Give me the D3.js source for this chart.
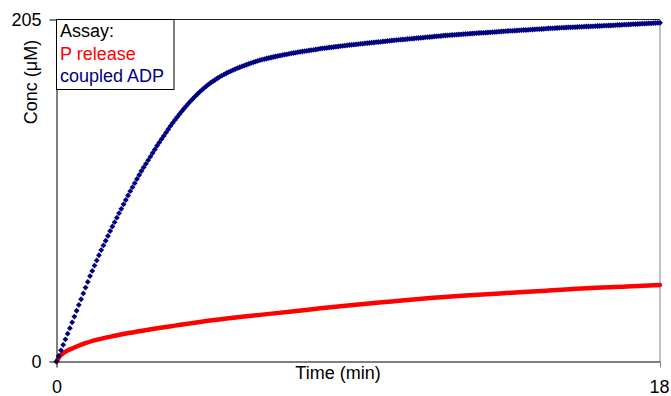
<!DOCTYPE html>
<html>
<head>
<meta charset="utf-8">
<script src="https://cdn.jsdelivr.net/npm/d3@7/dist/d3.min.js"></script>
<style>
  html, body { margin: 0; padding: 0; background: #fff; }
  svg { display: block; font-family: Arial, "Liberation Sans", sans-serif; }
</style>
</head>
<body>
<svg id="chart" width="671" height="396"></svg>
<script>
// ---- Data ----
const xTickValues = [0, 18];
const yTickValues = [0, 205];
const xLabel = "Time (min)";
const yLabel = "Conc (\u03bcM)";
const legendTitle = "Assay:";
const seriesNames = ["P release", "coupled ADP"];

// P release (line), time in min
const pReleaseTime = [0, 0.1, 0.25, 0.5, 0.84, 1.25, 1.74, 2.2, 2.64, 3.1, 3.53, 4.28, 5.4, 6.56, 7.7, 8.85, 10.0, 11.14, 12.2, 13.32, 14.6, 15.81, 17.0, 18];
const pReleaseConc = [0, 3.2, 5.6, 8.1, 10.9, 13.3, 15.4, 17.2, 18.7, 20.2, 21.5, 23.7, 26.5, 29.0, 31.5, 33.9, 36.0, 38.0, 39.5, 40.9, 42.4, 43.9, 44.9, 45.9];

// coupled ADP (markers), one reading every 4 s
const adpSampleSeconds = 4;
const adpConc = [
  0, 3.3, 6.7, 10.0, 13.3, 16.7, 20.0, 23.5, 26.9, 30.4, 33.9, 37.3, 40.8, 44.3, 47.7, 51.2,
  54.3, 57.5, 60.6, 63.7, 66.8, 69.6, 72.4, 75.3, 78.2, 80.9, 83.5, 86.2, 88.9, 91.5,
  94.2, 96.8, 99.5, 102.1, 104.5, 106.9, 109.4, 111.8, 114.2, 116.4, 118.5, 120.7, 122.8, 125.0, 127.1, 129.3,
  131.3, 133.3, 135.2, 137.2, 139.2, 141.2, 143.0, 144.8, 146.5, 148.2, 149.9, 151.5, 153.1, 154.6, 156.1,
  157.5, 158.9, 160.2, 161.5, 162.7, 163.9, 165.0, 166.1, 167.1, 168.0, 168.9, 169.8, 170.6, 171.4, 172.1,
  172.8, 173.5, 174.1, 174.7, 175.3, 175.9, 176.4, 176.9, 177.4, 177.9, 178.4, 178.9, 179.3, 179.7, 180.2,
  180.6, 180.9, 181.2, 181.6, 181.9, 182.2, 182.5, 182.8, 183.1, 183.3, 183.6, 183.9, 184.1, 184.4, 184.7,
  184.9, 185.1, 185.4, 185.6, 185.8, 186.0, 186.2, 186.4, 186.6, 186.8, 187.0, 187.2, 187.5, 187.7,
  187.8, 188.0, 188.2, 188.3, 188.5, 188.7, 188.8, 189.0, 189.2, 189.3, 189.5, 189.7,
  189.8, 189.9, 190.1, 190.2, 190.4, 190.5, 190.7, 190.8, 190.9, 191.1, 191.2, 191.4, 191.5, 191.6, 191.8,
  191.9, 192.1, 192.2, 192.4, 192.5, 192.6, 192.8, 192.9, 193.0, 193.1, 193.3, 193.4, 193.5, 193.6, 193.8,
  193.9, 194.0, 194.1, 194.3, 194.4, 194.5, 194.6, 194.8, 194.9, 195.0, 195.1, 195.3, 195.4, 195.5, 195.6,
  195.7, 195.8, 195.9, 196.0, 196.1, 196.2, 196.3, 196.4, 196.5, 196.6, 196.7, 196.8, 196.9, 197.0, 197.0,
  197.1, 197.2, 197.3, 197.4, 197.5, 197.6, 197.7, 197.8, 197.9, 198.0, 198.1, 198.2, 198.2, 198.3, 198.4,
  198.5, 198.6, 198.7, 198.7, 198.8, 198.9, 199.0, 199.1, 199.2, 199.2, 199.3, 199.4, 199.5, 199.6, 199.7,
  199.7, 199.8, 199.9, 200.0, 200.1, 200.1, 200.2, 200.3, 200.3, 200.4, 200.4, 200.5, 200.6, 200.6, 200.7,
  200.8, 200.8, 200.9, 200.9, 201.0, 201.1, 201.1, 201.2, 201.3, 201.3, 201.4, 201.4, 201.5, 201.6, 201.7,
  201.7, 201.8, 201.9, 201.9, 202.0, 202.1, 202.2, 202.2, 202.3, 202.4, 202.5, 202.5, 202.6, 202.7, 202.7,
  202.8, 202.9, 203.0, 203.0
];

// ---- Layout ----
const svg = d3.select("#chart");
const pLeft = 56.5, pRight = 660, pTop = 19.5, pBottom = 361.5;
const x = d3.scaleLinear().domain([0, 18]).range([pLeft, pRight]);
const y = d3.scaleLinear().domain([0, 205]).range([pBottom, pTop]);
const fontSize = 18;
const fontFam = "Arial, 'Liberation Sans', sans-serif";

// plot border (top + right)
svg.append("line").attr("x1", pLeft).attr("x2", pRight).attr("y1", pTop).attr("y2", pTop)
  .attr("stroke", "#222").attr("stroke-width", 1);
svg.append("line").attr("x1", pRight).attr("x2", pRight).attr("y1", pTop).attr("y2", pBottom)
  .attr("stroke", "#808080").attr("stroke-width", 1);

// series: P release
const pData = pReleaseTime.map((t, i) => ({ t, c: pReleaseConc[i] }));
svg.append("path").datum(pData)
  .attr("fill", "none").attr("stroke", "#ff0000").attr("stroke-width", 4.5)
  .attr("stroke-linejoin", "round").attr("stroke-linecap", "round")
  .attr("d", d3.line().x(d => x(d.t)).y(d => y(d.c)).curve(d3.curveMonotoneX));

// series: coupled ADP
const adpData = adpConc.map((c, i) => ({ t: i * adpSampleSeconds / 60, c }));
const marker = d3.symbol().type(d3.symbolSquare).size(17);
svg.append("g").selectAll("path").data(adpData).join("path")
  .attr("d", marker())
  .attr("fill", "#000080")
  .attr("transform", d => `translate(${x(d.t)},${y(d.c)}) rotate(45)`);

// axes
const xAxis = svg.append("g").attr("transform", `translate(0,${pBottom})`)
  .call(d3.axisBottom(x).tickValues(xTickValues).tickSize(6).tickPadding(12.5).tickSizeOuter(0));
xAxis.select(".domain").attr("stroke", "#000");
xAxis.selectAll(".tick line").attr("stroke", (d) => d === 18 ? "#808080" : "#000");
xAxis.selectAll("text").attr("font-size", fontSize).attr("font-family", fontFam).attr("fill", "#000");
xAxis.selectAll(".tick text").filter(d => d === 18).attr("dx", "-1");

const yAxis = svg.append("g").attr("transform", `translate(${pLeft},0)`)
  .call(d3.axisLeft(y).tickValues(yTickValues).tickSize(7).tickPadding(8).tickSizeOuter(0));
yAxis.select(".domain").attr("stroke", "#000");
yAxis.selectAll(".tick line").attr("stroke", "#000");
yAxis.selectAll("text").attr("font-size", fontSize).attr("font-family", fontFam).attr("fill", "#000");

// axis titles
svg.append("text").attr("x", 338).attr("y", 379).attr("text-anchor", "middle")
  .attr("font-size", fontSize).attr("fill", "#000").text(xLabel);
svg.append("text").attr("transform", "translate(37,82) rotate(-90)").attr("text-anchor", "middle")
  .attr("font-size", fontSize).attr("fill", "#000").text(yLabel);

// legend
const lg = svg.append("g");
lg.append("rect").attr("x", 56.5).attr("y", 19.5).attr("width", 117.5).attr("height", 70)
  .attr("fill", "#fff").attr("stroke", "#000").attr("stroke-width", 1);
lg.append("text").attr("x", 60).attr("y", 37).attr("font-size", fontSize).attr("fill", "#000").text(legendTitle);
lg.append("text").attr("x", 60).attr("y", 59.5).attr("font-size", fontSize).attr("fill", "#ff0000").text(seriesNames[0]);
lg.append("text").attr("x", 60).attr("y", 82).attr("font-size", fontSize).attr("fill", "#000080").text(seriesNames[1]);
</script>
</body>
</html>
